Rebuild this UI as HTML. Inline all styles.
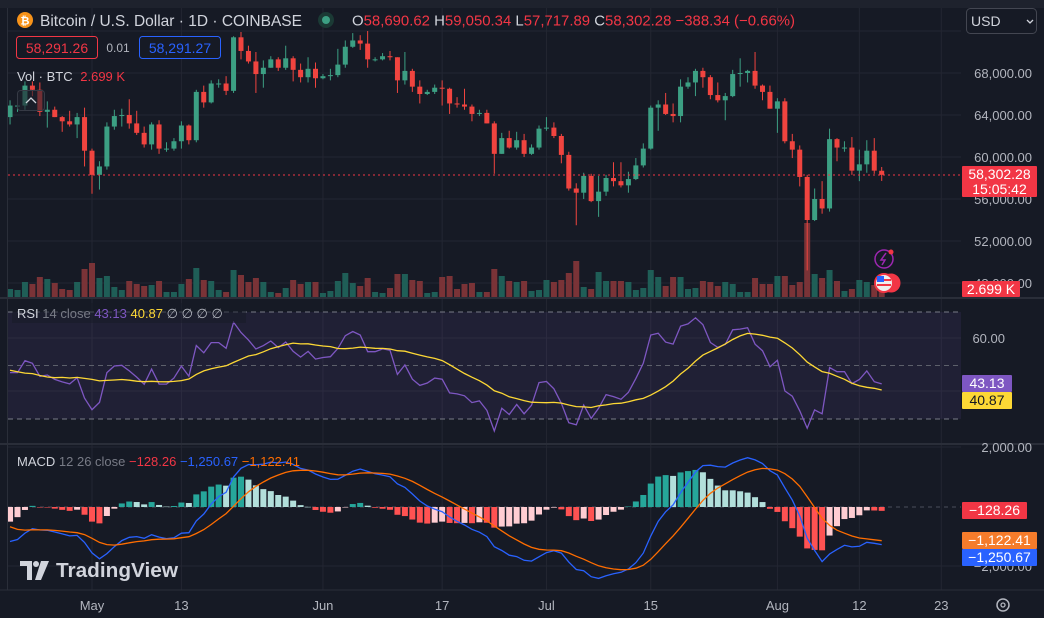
<!DOCTYPE html>
<html><head><meta charset="utf-8">
<style>
html,body{margin:0;padding:0;background:#161a25;}
body{width:1044px;height:618px;overflow:hidden;position:relative;font-family:"Liberation Sans",sans-serif;}
svg{position:absolute;left:0;top:0;}
.t{font-family:"Liberation Sans",sans-serif;}
</style></head>
<body>
<svg id="chart" width="1044" height="618" viewBox="0 0 1044 618">
<rect x="0" y="0" width="1044" height="618" fill="#161a25"/>
<rect x="0" y="0" width="1044" height="8" fill="#1e222d"/>
<g id="grid"></g>
<rect x="8" y="312" width="953" height="107" fill="rgba(126,87,194,0.10)"/>
<line x1="8" y1="312" x2="961" y2="312" stroke="#787b86" stroke-dasharray="5,4" stroke-width="1"/>
<line x1="8" y1="365.5" x2="961" y2="365.5" stroke="#5d606b" stroke-dasharray="5,4" stroke-width="1"/>
<line x1="8" y1="419" x2="961" y2="419" stroke="#787b86" stroke-dasharray="5,4" stroke-width="1"/>
<line x1="8" y1="507" x2="961" y2="507" stroke="#4a4e5a" stroke-dasharray="4,4"/>
<g id="vol"></g>
<g id="candles"></g>
<line x1="8" y1="175" x2="961" y2="175" stroke="#f23645" stroke-dasharray="2,3"/>
<g id="rsi"></g>
<g id="macd"></g>
<line x1="0" y1="298" x2="1044" y2="298" stroke="#2a2e39" stroke-width="2"/>
<line x1="0" y1="444" x2="1044" y2="444" stroke="#2a2e39" stroke-width="2"/>
<line x1="0" y1="590" x2="1044" y2="590" stroke="#2a2e39" stroke-width="1"/>
<line x1="7.5" y1="8" x2="7.5" y2="590" stroke="#2a2e39"/>
<g id="axes" class="t" font-size="13" fill="#b2b5be"></g>

<!-- header -->
<circle cx="25" cy="20" r="8" fill="#f7931a"/>
<text x="25" y="24.5" font-size="11" font-weight="bold" fill="#fff" text-anchor="middle" class="t">₿</text>
<text x="40" y="26" font-size="16" fill="#d1d4dc" class="t" textLength="262" lengthAdjust="spacingAndGlyphs">Bitcoin / U.S. Dollar · 1D · COINBASE</text>
<circle cx="326" cy="20" r="8" fill="#1b3a35"/>
<circle cx="326" cy="20" r="4" fill="#3c9f83"/>
<text x="352" y="25.5" font-size="15" class="t" textLength="443" lengthAdjust="spacingAndGlyphs"><tspan fill="#d1d4dc">O</tspan><tspan fill="#f23645">58,690.62 </tspan><tspan fill="#d1d4dc">H</tspan><tspan fill="#f23645">59,050.34 </tspan><tspan fill="#d1d4dc">L</tspan><tspan fill="#f23645">57,717.89 </tspan><tspan fill="#d1d4dc">C</tspan><tspan fill="#f23645">58,302.28 −388.34 (−0.66%)</tspan></text>
<rect x="966.5" y="8.5" width="70" height="25" rx="4" fill="#161a25" stroke="#434651"/>
<text x="971" y="26" font-size="14" fill="#d1d4dc" class="t">USD</text>
<path d="M1027 20 l3 3 l3 -3" stroke="#d1d4dc" fill="none" stroke-width="1.3"/>
<rect x="16.5" y="36.5" width="81" height="22" rx="3" fill="#161a25" stroke="#f23645"/>
<text x="57" y="53" font-size="14" fill="#f23645" text-anchor="middle" class="t">58,291.26</text>
<text x="118" y="52" font-size="12" fill="#b2b5be" text-anchor="middle" class="t">0.01</text>
<rect x="139.5" y="36.5" width="81" height="22" rx="3" fill="#161a25" stroke="#2962ff"/>
<text x="180" y="53" font-size="14" fill="#2962ff" text-anchor="middle" class="t">58,291.27</text>
<text x="17" y="81" font-size="13" class="t"><tspan fill="#d1d4dc">Vol · BTC </tspan><tspan fill="#f23645" dx="4">2.699 K</tspan></text>
<rect x="17.5" y="90.5" width="27" height="20" rx="3" fill="rgba(30,34,45,0.6)" stroke="#363a45"/>
<path d="M26 103 l5 -5 l5 5" stroke="#d1d4dc" fill="none" stroke-width="1.3"/>
<rect x="12" y="303" width="234" height="20" fill="rgba(22,26,37,0.5)"/>
<text x="17" y="318" font-size="13" class="t"><tspan fill="#d1d4dc">RSI</tspan><tspan fill="#787b86"> 14 close </tspan><tspan fill="#7e57c2">43.13 </tspan><tspan fill="#fdd835">40.87 </tspan><tspan fill="#b2b5be">∅ ∅ ∅ ∅</tspan></text>
<text x="17" y="466" font-size="13" class="t"><tspan fill="#d1d4dc">MACD</tspan><tspan fill="#787b86"> 12 26 close </tspan><tspan fill="#f23645">−128.26 </tspan><tspan fill="#2962ff">−1,250.67 </tspan><tspan fill="#ff6d00">−1,122.41</tspan></text>
<g>
<path d="M20 561 h12 v19 h-5 v-14 h-7z" fill="#d1d4dc"/>
<circle cx="36" cy="564" r="3" fill="#d1d4dc"/>
<path d="M41 561 h8 l-8 19 h-6z" fill="#d1d4dc"/>
<text x="56" y="577" font-size="20" font-weight="bold" fill="#d1d4dc" class="t" textLength="122" lengthAdjust="spacingAndGlyphs">TradingView</text>
</g>
<g>
<circle cx="884" cy="259" r="9" fill="none" stroke="#9c27b0" stroke-width="1.5"/>
<path d="M886 253 l-5 7 h4 l-3 5" stroke="#9c27b0" fill="none" stroke-width="1.5"/>
<circle cx="891" cy="252" r="2.5" fill="#f23645"/>
<circle cx="891" cy="283" r="9" fill="#f23645" stroke="#f23645"/>
<circle cx="884" cy="283" r="9" fill="#eee" stroke="#f23645" stroke-width="2"/>
<rect x="877" y="279" width="14" height="2" fill="#f23645"/><rect x="877" y="284" width="14" height="2" fill="#f23645"/>
<rect x="877" y="276" width="7" height="6" fill="#2962ff"/>
</g>
</svg>
<script>
// ---- data (USD thousands), Apr 20 .. Aug 15 2024 ----
const dates = ["Apr20","Aug15"];
const opens  = [63.8,64.9,64.9,66.8,66.4,64.3,64.5,63.8,63.4,63.1,63.8,60.6,58.3,59.1,62.9,63.9,64.0,63.2,62.3,61.2,63.1,60.8,60.8,61.5,63.0,61.6,66.2,65.2,67.0,67.0,66.3,71.4,70.1,69.1,67.9,68.5,69.3,68.5,69.4,68.3,67.6,68.4,67.5,67.7,67.8,68.8,70.5,71.1,70.8,69.3,69.3,69.6,69.5,67.3,68.2,66.7,66.0,66.2,66.6,66.5,65.1,65.0,64.8,64.1,64.2,63.2,60.3,61.8,60.9,61.6,60.3,60.9,62.7,62.8,62.0,60.2,57.0,56.6,58.2,55.8,56.7,58.0,57.7,57.3,57.9,59.2,60.8,64.7,65.0,64.1,63.9,66.7,67.1,68.2,67.6,65.9,65.4,65.8,67.9,68.0,68.2,66.8,66.2,64.6,65.3,61.5,60.7,58.1,54.0,56.0,55.1,61.7,60.9,60.9,58.7,59.3,60.6,58.69];
const highs  = [65.4,65.7,67.2,67.2,67.1,65.3,64.8,63.9,64.4,64.2,64.7,60.8,59.6,63.3,64.5,64.6,65.5,64.4,62.9,63.3,63.5,61.4,61.8,63.4,63.1,66.4,66.8,67.3,67.4,67.7,71.5,71.9,70.6,70.0,69.2,69.6,69.5,70.6,69.6,68.9,69.5,69.0,67.9,68.4,70.3,71.1,71.8,71.6,72.0,69.5,69.9,70.1,69.5,70.0,68.4,67.3,66.4,66.9,67.3,66.6,65.7,66.5,65.0,64.5,64.5,63.4,62.3,62.5,62.4,62.2,61.2,63.0,63.8,63.3,62.2,60.5,57.5,58.5,58.4,58.2,58.3,59.5,59.5,58.6,59.9,61.3,64.9,65.4,66.1,65.1,67.4,67.6,68.4,68.5,67.8,67.1,66.1,68.3,69.4,68.3,70.0,66.9,66.8,65.6,65.6,62.2,61.1,58.3,57.0,57.7,62.7,61.8,61.5,61.9,60.7,61.6,61.8,59.05];
const lows   = [63.1,64.3,64.5,65.8,63.9,62.8,63.8,62.4,62.9,61.8,59.1,56.5,56.9,58.8,62.6,62.9,62.7,62.1,60.9,60.7,60.3,60.5,60.6,60.8,61.2,61.4,64.7,65.1,66.6,65.9,66.1,69.3,68.9,66.1,66.6,68.5,68.2,68.3,67.2,67.1,67.1,66.6,67.4,67.3,67.6,68.5,70.4,70.2,68.5,69.1,69.2,69.2,66.1,66.9,66.2,65.1,65.9,66.0,64.9,64.1,64.7,64.5,63.4,63.9,63.2,58.4,60.3,60.8,60.7,60.0,60.2,60.7,62.5,61.8,59.4,56.8,53.5,56.0,55.7,54.3,56.3,57.2,57.1,56.6,57.8,59.0,60.7,62.5,64.0,63.3,63.3,66.5,65.8,66.6,65.5,65.2,63.5,65.7,66.7,67.1,66.5,65.4,64.6,62.3,61.3,59.9,57.2,49.2,53.9,54.6,54.8,59.6,60.5,58.3,57.7,58.5,58.4,57.72];
const closes = [64.9,64.9,66.8,66.4,64.3,64.5,63.8,63.4,63.1,63.8,60.6,58.3,59.1,62.9,63.9,64.0,63.2,62.3,61.2,63.1,60.8,60.8,61.5,63.0,61.6,66.2,65.2,67.0,67.0,66.3,71.4,70.1,69.1,67.9,68.5,69.3,68.5,69.4,68.3,67.6,68.4,67.5,67.7,67.8,68.8,70.5,71.1,70.8,69.3,69.3,69.6,69.5,67.3,68.2,66.7,66.0,66.2,66.6,66.5,65.1,65.0,64.8,64.1,64.2,63.2,60.3,61.8,60.9,61.6,60.3,60.9,62.7,62.8,62.0,60.2,57.0,56.6,58.2,55.8,56.7,58.0,57.7,57.3,57.9,59.2,60.8,64.7,65.0,64.1,63.9,66.7,67.1,68.2,67.6,65.9,65.4,65.8,67.9,68.0,68.2,66.8,66.2,64.6,65.3,61.5,60.7,58.1,54.0,56.0,55.1,61.7,60.9,60.9,58.7,59.3,60.6,58.7,58.30];
const volumes = [8,7,15,13,20,18,14,8,7,15,28,34,19,21,10,7,16,13,11,12,16,5,5,13,18,29,17,16,7,5,27,22,15,19,15,5,4,9,17,13,15,15,4,6,16,24,14,11,19,5,4,9,23,23,17,16,4,5,20,21,8,13,14,5,5,28,21,16,15,16,6,7,17,15,17,24,36,10,8,25,16,16,16,15,7,9,27,20,11,20,20,8,9,16,15,11,15,13,5,5,19,13,13,21,21,12,15,74,23,19,27,16,6,8,17,15,12,10];
// earlier closes (Mar 1 .. Apr 19) used only to warm up indicators
const warmupCloses = [62.4,62.0,63.1,68.3,63.8,66.1,66.9,68.3,68.5,69.0,72.1,71.5,73.1,71.4,69.4,65.3,68.4,67.6,61.9,67.9,65.5,63.8,64.0,67.2,69.9,69.9,69.4,70.7,69.9,69.6,71.3,69.7,65.5,66.0,68.5,67.8,68.9,69.4,71.6,69.1,70.6,70.0,67.1,63.9,65.7,63.4,63.8,61.3,63.5,63.8];
const priceTicks = [72,68,64,60,56,52,48];
const priceTickLabels = ["","68,000.00","64,000.00","60,000.00","56,000.00","52,000.00","48,000.00"];
const dateTickIdx = [11,23,42,58,72,86,103,114,125];
const dateTickLabels = ["May","13","Jun","17","Jul","15","Aug","12","23"];

// ---- scales ----
const X = i => 92 + (i - 11) * 7.45;
const PY = p => 73 + (68 - p) * 10.5;
const VY = v => 297 - v;
const RY = r => 365.5 - (r - 50) * 2.675;
const MY = m => 507 - m * 0.03;
const NS = "http://www.w3.org/2000/svg";
function mk(tag, attrs, parent){const e=document.createElementNS(NS,tag);for(const k in attrs)e.setAttribute(k,attrs[k]);parent.appendChild(e);return e;}

// grid
const grid = document.getElementById('grid');
priceTicks.forEach(p=>{const l=mk('line',{x1:8,x2:961,y1:PY(p),y2:PY(p),stroke:'#232632'},grid);

});
[338,391].forEach(y=>mk('line',{x1:8,x2:961,y1:y,y2:y,stroke:'#232632'},grid));
[447,566].forEach(y=>mk('line',{x1:8,x2:961,y1:y,y2:y,stroke:'#232632'},grid));
dateTickIdx.forEach(i=>{const l=mk('line',{x1:X(i),x2:X(i),y1:8,y2:590,stroke:'#232632'},grid);

});

// volume
const vg = document.getElementById('vol');
volumes.forEach((v,i)=>{const up=closes[i]>=opens[i];
const r=mk('rect',{x:X(i)-3,y:VY(v),width:6,height:v,fill:up?'#1f5e57':'#7a3337'},vg);

});

// candles
const cg = document.getElementById('candles');
closes.forEach((c,i)=>{const o=opens[i],up=c>=o,col=up?'#3c9f83':'#f0443f';
const g=mk('g',{},cg);


mk('line',{x1:X(i),x2:X(i),y1:PY(highs[i]),y2:PY(lows[i]),stroke:col,'stroke-width':1},g);
const top=PY(Math.max(o,c)),h=Math.max(1,Math.abs(PY(o)-PY(c)));
mk('rect',{x:X(i)-2.5,y:top,width:5,height:h,fill:col},g);});

// indicators
const all = warmupCloses.concat(closes);
const W = warmupCloses.length;
function rsiCalc(a,n){const out=new Array(a.length).fill(null);let g=0,l=0;
for(let i=1;i<=n;i++){const d=a[i]-a[i-1];if(d>0)g+=d;else l-=d;}g/=n;l/=n;out[n]=100-100/(1+g/l);
for(let i=n+1;i<a.length;i++){const d=a[i]-a[i-1];g=(g*(n-1)+Math.max(d,0))/n;l=(l*(n-1)+Math.max(-d,0))/n;out[i]=l===0?100:100-100/(1+g/l);}return out;}
function ema(a,n){const k=2/(n+1);const out=[];let e=a[0];a.forEach((v,i)=>{e=i?v*k+e*(1-k):v;out.push(e);});return out;}
const rsiAll = rsiCalc(all,14);
const rsiMA = rsiAll.map((v,i)=>{if(i<27)return null;let s=0;for(let j=i-13;j<=i;j++)s+=rsiAll[j];return s/14;});
const e12=ema(all,12),e26=ema(all,26);
const macdAll=all.map((v,i)=>(e12[i]-e26[i])*1000);
const sigAll=ema(macdAll,9);
function poly(vals,yf){return vals.map((v,i)=>X(i).toFixed(1)+','+yf(v).toFixed(1)).join(' ');}
const rg=document.getElementById('rsi');
const rsiVis=rsiAll.slice(W), maVis=rsiMA.slice(W);
const rl=mk('polyline',{points:poly(rsiVis,RY),fill:'none',stroke:'#7e57c2','stroke-width':1.3},rg);


const rm=mk('polyline',{points:poly(maVis,RY),fill:'none',stroke:'#fdd835','stroke-width':1.3},rg);


const mg=document.getElementById('macd');
const macdVis=macdAll.slice(W), sigVis=sigAll.slice(W);
macdVis.forEach((m,i)=>{const h=m-sigVis[i];const ph=i?macdVis[i-1]-sigVis[i-1]:h;
let col=h>=0?(h>=ph?'#26a69a':'#b2dfdb'):(h<ph?'#ff5252':'#ffcdd2');
const y0=MY(0),y1=MY(h);
const r=mk('rect',{x:X(i)-3,y:Math.min(y0,y1),width:6,height:Math.max(0.5,Math.abs(y1-y0)),fill:col},mg);

});
const ml=mk('polyline',{points:poly(macdVis,MY),fill:'none',stroke:'#2962ff','stroke-width':1.3},mg);


const sl=mk('polyline',{points:poly(sigVis,MY),fill:'none',stroke:'#ff6d00','stroke-width':1.3},mg);



// axes
const ax=document.getElementById('axes');
function txt(s,x,y,attrs,parent){const t=mk('text',Object.assign({x:x,y:y},attrs||{}),parent||ax);t.textContent=s;return t;}
priceTicks.forEach((p,k)=>{if(priceTickLabels[k]){const t=txt(priceTickLabels[k],1032,PY(p)+5,{'text-anchor':'end'});

}});
txt('60.00',1005,343,{'text-anchor':'end'});
txt('2,000.00',1032,452,{'text-anchor':'end'});
txt('0.00',1005,512,{'text-anchor':'end'});
txt('−2,000.00',1032,571,{'text-anchor':'end'});
dateTickIdx.forEach((i,k)=>{const t=txt(dateTickLabels[k],X(i),610,{'text-anchor':'middle'});

});
// gear
mk('circle',{cx:1003,cy:605,r:6,fill:'none',stroke:'#b2b5be','stroke-width':1.5},ax);
mk('circle',{cx:1003,cy:605,r:2,fill:'none',stroke:'#b2b5be','stroke-width':1.3},ax);
// value badges
function badge(x,y,w,h,bg,lines,fg,name){const g=mk('g',{},ax);


mk('rect',{x:x,y:y,width:w,height:h,fill:bg,rx:1},g);
lines.forEach((s,k)=>txt(s,x+w/2,y+13+k*15,{fill:fg,'text-anchor':'middle','font-size':14},g));}
badge(962,166,75,31,'#f23645',['58,302.28','15:05:42'],'#fff','last-price-badge');
badge(962,281,58,16,'#f23645',['2.699 K'],'#fff','volume-badge');
badge(962,375,50,17,'#7e57c2',['43.13'],'#fff','rsi-badge');
badge(962,392,50,17,'#fdd835',['40.87'],'#131722','rsi-ma-badge');
badge(962,502,65,17,'#f23645',['−128.26'],'#fff','histogram-badge');
badge(962,532,75,17,'#f57c2b',['−1,122.41'],'#fff','signal-badge');
badge(962,549,75,17,'#2962ff',['−1,250.67'],'#fff','macd-badge');
</script>
</body></html>
